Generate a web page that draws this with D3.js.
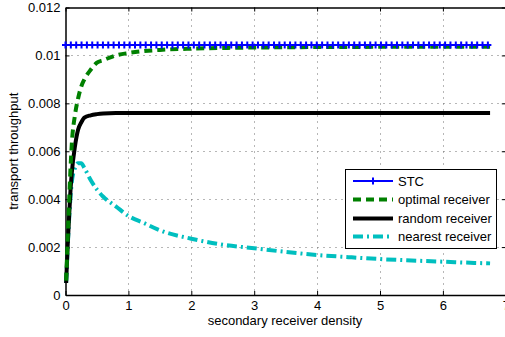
<!DOCTYPE html>
<html lang="en">
<head>
    <meta charset="UTF-8">
    <title>transport throughput</title>
    <script src="https://cdn.jsdelivr.net/npm/d3@7/dist/d3.min.js"></script>
    <style>
        * { margin: 0; }
        body { background: #fff; }
        svg text { font-family: "Liberation Sans", Arial, Helvetica, sans-serif; font-size: 13px; fill: #000; }
    </style>
</head>
<body>
    <svg id="chart" width="505" height="337"></svg>
    <script>
        // values
        const density = [0.01, 0.03, 0.05, 0.08, 0.1, 0.15, 0.2, 0.25, 0.3, 0.4, 0.5, 0.6, 0.8, 1.0,
            1.25, 1.5, 2, 2.5, 3, 3.5, 4, 4.5, 5, 5.5, 6, 6.5, 6.75];
        const optimalReceiver = [0.0006, 0.002, 0.0034, 0.0053, 0.0063, 0.0075, 0.0082, 0.0087, 0.009, 0.0094,
            0.0097, 0.0098, 0.01, 0.0101, 0.01018, 0.01023, 0.01028, 0.01031, 0.01033, 0.01034, 0.01035,
            0.01035, 0.01036, 0.01036, 0.01036, 0.01036, 0.01036];
        const randomReceiver = [0.0005, 0.0018, 0.0029, 0.0044, 0.0051, 0.0062, 0.0069, 0.0072, 0.0074, 0.0075,
            0.00755, 0.00758, 0.0076, 0.0076, 0.0076, 0.0076, 0.0076, 0.0076, 0.0076, 0.0076, 0.0076,
            0.0076, 0.0076, 0.0076, 0.0076, 0.0076, 0.0076];
        const nearestReceiver = [0.0005, 0.0017, 0.0028, 0.0041, 0.0047, 0.0053, 0.0055, 0.0055, 0.0053, 0.0048,
            0.0044, 0.0041, 0.0037, 0.0033, 0.003, 0.0027, 0.00235, 0.0021, 0.00195, 0.0018, 0.00167,
            0.00158, 0.0015, 0.00144, 0.00139, 0.00134, 0.00132];
        const stcLevel = 0.01043;
        // STC was sampled on a fine grid, one marker per sample
        const stcDensity = d3.range(0, 6.77, 0.085);

        const xTicks = [0, 1, 2, 3, 4, 5, 6, 7];
        const xTickLabels = ['0', '1', '2', '3', '4', '5', '6', '7'];
        const yTicks = [0, 0.002, 0.004, 0.006, 0.008, 0.01, 0.012];
        const yTickLabels = ['0', '0.002', '0.004', '0.006', '0.008', '0.01', '0.012'];

        const svg = d3.select('#chart');
        const pL = 65.5, pR = 505.8, pT = 7.5, pB = 295;

        const x = d3.scaleLinear().domain([0, 7]).range([pL, pR]);
        const y = d3.scaleLinear().domain([0, 0.012]).range([pB, pT]);

        // dotted grid
        const grid = svg.append('g').attr('stroke', '#6e6e6e').attr('stroke-width', 1)
            .attr('stroke-dasharray', '1,5');
        grid.selectAll('line.vx').data(xTicks.slice(1, -1)).enter().append('line')
            .attr('x1', d => Math.round(x(d)) + 0.5).attr('x2', d => Math.round(x(d)) + 0.5)
            .attr('y1', pT).attr('y2', pB);
        grid.selectAll('line.hy').data(yTicks.slice(1, -1)).enter().append('line')
            .attr('y1', d => Math.round(y(d)) + 0.5).attr('y2', d => Math.round(y(d)) + 0.5)
            .attr('x1', pL).attr('x2', pR);

        // axes with inward ticks
        const xAxis = d3.axisBottom(x).tickValues(xTicks).tickSizeInner(-4).tickSizeOuter(0).tickPadding(6)
            .tickFormat((d, i) => xTickLabels[i]);
        const gx = svg.append('g').attr('transform', `translate(0,${pB})`).call(xAxis);
        const xTop = svg.append('g').attr('transform', `translate(0,${pT})`)
            .call(d3.axisTop(x).tickValues(xTicks).tickSizeInner(-4).tickSizeOuter(0).tickFormat(''));
        const yAxis = d3.axisLeft(y).tickValues(yTicks).tickSizeInner(-4).tickSizeOuter(0).tickPadding(5)
            .tickFormat((d, i) => yTickLabels[i]);
        const gy = svg.append('g').attr('transform', `translate(${pL},0)`).call(yAxis);
        const yRight = svg.append('g').attr('transform', `translate(${pR},0)`)
            .call(d3.axisRight(y).tickValues(yTicks).tickSizeInner(-4).tickSizeOuter(0).tickFormat(''));

        [gx, xTop, gy, yRight].forEach(g => {
            g.select('.domain').attr('stroke', '#000').attr('stroke-width', 1.5);
            g.selectAll('.tick line').attr('stroke', '#000').attr('stroke-width', 1);
            g.selectAll('text').attr('font-size', 13).attr('font-family', null);
        });

        // axis titles
        svg.append('text').attr('x', 285).attr('y', 325)
            .attr('text-anchor', 'middle').text('secondary receiver density');
        svg.append('text').attr('transform', `translate(18,${(pT + pB) / 2}) rotate(-90)`)
            .attr('text-anchor', 'middle').text('transport throughput');

        // series
        const line = d3.line().x(d => x(d[0])).y(d => y(d[1]));
        const curve = d3.line().curve(d3.curveMonotoneX).x(d => x(d[0])).y(d => y(d[1]));
        const stcPoints = stcDensity.map(d => [d, stcLevel]);
        const series = [
            { name: 'STC', color: '#0000ff', width: 2, dash: null, pts: stcPoints },
            { name: 'optimal receiver', color: '#008000', width: 4, dash: '8,5', pts: density.map((d, i) => [d, optimalReceiver[i]]) },
            { name: 'random receiver', color: '#000000', width: 4, dash: null, pts: density.map((d, i) => [d, randomReceiver[i]]) },
            { name: 'nearest receiver', color: '#00bfbf', width: 4, dash: '10,4,2,4', pts: density.map((d, i) => [d, nearestReceiver[i]]) }
        ];

        // draw in reverse so STC sits on top
        const plot = svg.append('g');
        series.slice().reverse().forEach(s => {
            plot.append('path').datum(s.pts)
                .attr('d', s.name === 'STC' ? line : curve)
                .attr('fill', 'none').attr('stroke', s.color).attr('stroke-width', s.width)
                .attr('stroke-dasharray', s.dash);
        });

        // plus markers on STC
        const crossPath = (cx, cy, r) => `M${cx - r},${cy}H${cx + r}M${cx},${cy - r}V${cy + r}`;
        plot.selectAll('path.mk').data(stcPoints).enter().append('path')
            .attr('class', 'mk')
            .attr('d', d => crossPath(x(d[0]), y(d[1]), 3.5))
            .attr('stroke', '#0000ff').attr('stroke-width', 2).attr('fill', 'none');

        // legend
        const lg = svg.append('g');
        lg.append('rect').attr('x', 345.5).attr('y', 169.5).attr('width', 151).attr('height', 79)
            .attr('fill', '#fff').attr('stroke', '#000').attr('stroke-width', 1);
        const rowY = [181, 199.5, 218.5, 236.5];
        series.forEach((s, i) => {
            lg.append('line').attr('x1', 353).attr('x2', 393).attr('y1', rowY[i]).attr('y2', rowY[i])
                .attr('stroke', s.color).attr('stroke-width', s.width).attr('stroke-dasharray', s.dash);
            if (s.name === 'STC') {
                lg.append('path').attr('d', crossPath(373, rowY[i], 3.5))
                    .attr('stroke', s.color).attr('stroke-width', 2);
            }
            lg.append('text').attr('x', 398).attr('y', rowY[i]).attr('dy', '0.35em').text(s.name);
        });
    </script>
</body>
</html>
